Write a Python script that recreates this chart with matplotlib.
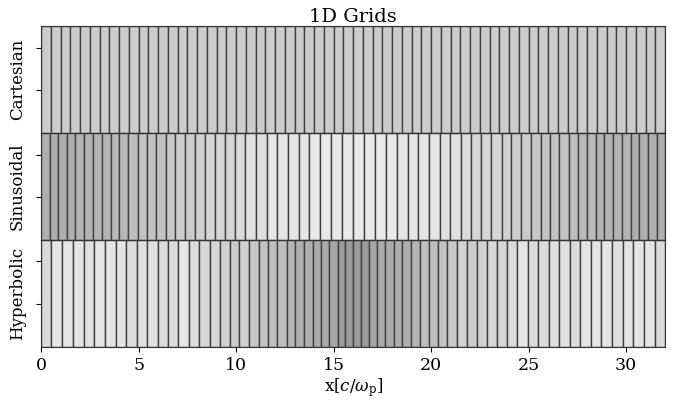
import numpy as np
import matplotlib
matplotlib.use("Agg")
import matplotlib.pyplot as plt
from matplotlib.colors import Normalize

plt.rcParams['font.family'] = 'DejaVu Serif'
plt.rcParams['mathtext.fontset'] = 'dejavuserif'

# cell edges, x in c/omega_p
cartesian_edges = np.linspace(0, 32, 65)

sinusoidal_edges = [0.00, 0.44, 0.88, 1.32, 1.76, 2.21, 2.66, 3.11, 3.56, 4.02,
                    4.48, 4.95, 5.43, 5.91, 6.39, 6.88, 7.38, 7.88, 8.39, 8.91,
                    9.43, 9.95, 10.48, 11.02, 11.56, 12.11, 12.66, 13.21, 13.76, 14.32,
                    14.88, 15.44, 16.00, 16.56, 17.12, 17.68, 18.24, 18.79, 19.34, 19.89,
                    20.44, 20.98, 21.52, 22.05, 22.57, 23.09, 23.61, 24.12, 24.62, 25.12,
                    25.61, 26.09, 26.57, 27.05, 27.52, 27.98, 28.44, 28.89, 29.34, 29.79,
                    30.24, 30.68, 31.12, 31.56, 32.00]

hyperbolic_edges = [0.00, 0.53, 1.08, 1.63, 2.18, 2.72, 3.27, 3.82, 4.37, 4.90,
                    5.44, 5.98, 6.51, 7.04, 7.59, 8.12, 8.64, 9.16, 9.67, 10.17,
                    10.68, 11.17, 11.65, 12.12, 12.59, 13.04, 13.48, 13.92, 14.35, 14.78,
                    15.20, 15.60, 16.00, 16.40, 16.80, 17.22, 17.65, 18.08, 18.52, 18.96,
                    19.41, 19.88, 20.35, 20.83, 21.32, 21.83, 22.33, 22.84, 23.36, 23.88,
                    24.41, 24.96, 25.49, 26.02, 26.56, 27.10, 27.63, 28.18, 28.73, 29.28,
                    29.82, 30.37, 30.92, 31.47, 32.00]

names = ['Cartesian', 'Sinusoidal', 'Hyperbolic']
grids = [cartesian_edges, sinusoidal_edges, hyperbolic_edges]

# colour by cell size: small cells dark
norm = Normalize(vmin=0.075, vmax=0.606)
cmap = plt.get_cmap('gray')

fig, axes = plt.subplots(3, 1, sharex=True, figsize=(6.85, 4.03), dpi=100)
fig.subplots_adjust(left=0.06, right=0.971, top=0.935, bottom=0.139, hspace=0)

for ax, name, edges in zip(axes, names, grids):
    edges = np.asarray(edges)
    dx = np.diff(edges)
    ax.bar(edges[:-1], 1, width=dx, align='edge', color=cmap(norm(dx)),
           edgecolor='#404040', linewidth=1.0)
    ax.set_ylim(0, 1)
    ax.set_yticks([0.4, 0.8])
    ax.set_yticklabels([])
    ax.set_ylabel(name, fontsize=12)
    for s in ax.spines.values():
        s.set_color('#333333')
    ax.tick_params(axis='x', bottom=False)

axes[-1].tick_params(axis='x', bottom=True, labelsize=12.5)
axes[-1].set_xlim(0, 32)
axes[-1].set_xticks([0, 5, 10, 15, 20, 25, 30])
axes[-1].set_xlabel(r'x[$c/\omega_\mathrm{p}$]', fontsize=12, labelpad=2)
axes[0].set_title('1D Grids', fontsize=14, pad=3)

plt.savefig('out.png', dpi=100)
